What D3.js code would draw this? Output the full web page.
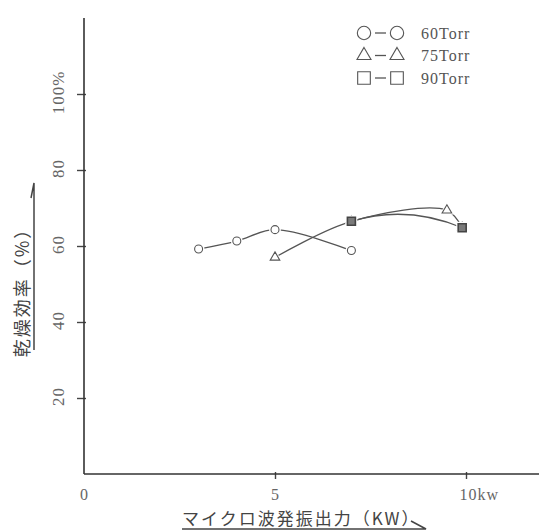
<!DOCTYPE html>
<meta charset="utf-8">
<style>
body { margin: 0; background: #fff; }
.tick text { font-family: "Liberation Serif", serif; font-size: 17px; fill: #666; letter-spacing: 1px; }
.tick line { stroke: #444; stroke-width: 1.4px; }
.axisline { stroke: #333; stroke-width: 1.6px; }
.curve { fill: none; stroke: #555; stroke-width: 1.3px; }
.legend text { font-family: "Liberation Serif", serif; font-size: 16px; fill: #555; letter-spacing: 1px; }
.title { font-family: "Noto Sans CJK JP", sans-serif; fill: #444; letter-spacing: 2px; }
.arrow { fill: none; stroke: #444; stroke-width: 1.5px; }
</style>
<body>
<script src="https://d3js.org/d3.v7.min.js"></script>
<script>

// values
var xTicks = [0, 5, 10];
var xTickLabels = ["0", "5", "10kw"];
var yTicks = [20, 40, 60, 80, 100];
var yTickLabels = ["20", "40", "60", "80", "100%"];

var torr60_kw  = [3, 4, 5, 7];
var torr60_eff = [59.2, 61.3, 64.3, 58.8];
var torr75_kw  = [5, 7, 9.5, 9.9];
var torr75_eff = [57, 66.5, 69.4, 64.8];
var torr90_kw  = [7, 9.9];
var torr90_eff = [66.5, 64.8];

var seriesNames = ["60Torr", "75Torr", "90Torr"];
var symbolTypes = [d3.symbolCircle, d3.symbolTriangle, d3.symbolSquare];

var W = 539, H = 530;

var x = d3.scaleLinear().domain([0, 10]).range([84, 466]);
var y = d3.scaleLinear().domain([0, 100]).range([474, 94]);

var svg = d3.select("body").append("svg")
    .attr("width", W)
    .attr("height", H);

function zip(xs, ys) {
  return xs.map(function(v, i) { return [v, ys[i]]; });
}
var series = [
  zip(torr60_kw, torr60_eff),
  zip(torr75_kw, torr75_eff),
  zip(torr90_kw, torr90_eff)
];

// axes (ticks cross the line a little)
var gx = svg.append("g")
    .attr("transform", "translate(0," + y(0) + ")")
    .call(d3.axisBottom(x).tickValues(xTicks).tickSize(5).tickPadding(10)
      .tickFormat(function(d, i) { return xTickLabels[i]; }));
gx.select(".domain").remove();
gx.selectAll(".tick line").attr("y1", -2);
gx.selectAll(".tick text").style("font-size", "16px");
gx.selectAll(".tick").filter(function(d) { return d === 10; })
    .select("text").attr("text-anchor", "start").attr("x", -7);
gx.selectAll(".tick").filter(function(d) { return d === 0; })
    .select("line").remove();

var gy = svg.append("g")
    .attr("transform", "translate(" + x(0) + ",0)")
    .call(d3.axisLeft(y).tickValues(yTicks).tickSize(7)
      .tickFormat(function(d, i) { return yTickLabels[i]; }));
gy.select(".domain").remove();
gy.selectAll(".tick line").attr("x1", 2);
gy.selectAll(".tick text")
    .attr("x", null).attr("dy", null)
    .attr("text-anchor", "middle")
    .attr("transform", "translate(-20,-2) rotate(-90)");

svg.append("line").attr("class", "axisline")
    .attr("x1", x(0)).attr("x2", x(0))
    .attr("y1", y(120)).attr("y2", y(0));
svg.append("line").attr("class", "axisline")
    .attr("x1", x(0)).attr("x2", x(12.5))
    .attr("y1", y(0)).attr("y2", y(0));

// fitted curves
var curveLine = d3.line()
    .x(function(d) { return x(d[0]); })
    .y(function(d) { return y(d[1]); })
    .curve(d3.curveCatmullRom.alpha(0.5));

svg.append("path").attr("class", "curve").attr("d", curveLine(series[0]));
svg.append("path").attr("class", "curve").attr("d", curveLine(series[1]));

// 90 Torr has only two points: a shallow arc between them
var p0 = [x(series[2][0][0]), y(series[2][0][1])];
var p1 = [x(series[2][1][0]), y(series[2][1][1])];
var arc90 = d3.path();
arc90.moveTo(p0[0], p0[1]);
arc90.quadraticCurveTo((p0[0] + p1[0]) / 2, (p0[1] + p1[1]) / 2 - 20, p1[0], p1[1]);
svg.append("path").attr("class", "curve").attr("d", arc90.toString());

// markers
var markSize = [50, 40, 64];
var markFill = ["#fff", "#fff", "#7a7a7a"];
series.forEach(function(pts, k) {
  var g = svg.append("g");
  g.selectAll("path.halo").data(pts).enter().append("path")
      .attr("class", "halo")
      .attr("transform", function(d) { return "translate(" + x(d[0]) + "," + y(d[1]) + ")"; })
      .attr("d", d3.symbol().type(symbolTypes[k]).size(markSize[k] * 2.2))
      .attr("fill", "#fff");
  g.selectAll("path.mark").data(pts).enter().append("path")
      .attr("class", "mark")
      .attr("transform", function(d) { return "translate(" + x(d[0]) + "," + y(d[1]) + ")"; })
      .attr("d", d3.symbol().type(symbolTypes[k]).size(markSize[k]))
      .attr("fill", markFill[k])
      .attr("stroke", k === 2 ? "#444" : "#555")
      .attr("stroke-width", k === 2 ? 1.6 : 1.1);
});

// legend
var legSize = [140, 85, 160];
var leg = svg.append("g").attr("class", "legend");
seriesNames.forEach(function(name, i) {
  var ly = 33 + i * 22.5;
  var row = leg.append("g").attr("transform", "translate(0," + ly + ")");
  [364, 397].forEach(function(cx) {
    row.append("path")
        .attr("transform", "translate(" + cx + ",0)")
        .attr("d", d3.symbol().type(symbolTypes[i]).size(legSize[i]))
        .attr("fill", "#fff").attr("stroke", "#555").attr("stroke-width", 1.1);
  });
  row.append("line").attr("x1", 375).attr("x2", 386)
      .attr("stroke", "#555").attr("stroke-width", 1.3);
  row.append("text").attr("x", 421).attr("y", 5.5).text(name);
});

// axis titles with their arrows
svg.append("text").attr("class", "title")
    .attr("transform", "translate(29,288) rotate(-90)")
    .attr("text-anchor", "middle")
    .style("font-size", "18px")
    .text("乾燥効率（%）");
svg.append("path").attr("class", "arrow")
    .attr("d", "M34,350L34,183L31,198");

svg.append("text").attr("class", "title")
    .attr("x", 182).attr("y", 525)
    .style("font-size", "17px")
    .text("マイクロ波発振出力（KW）");
svg.append("path").attr("class", "arrow")
    .attr("d", "M182,529L426,529L411,521");

</script>
</body>
